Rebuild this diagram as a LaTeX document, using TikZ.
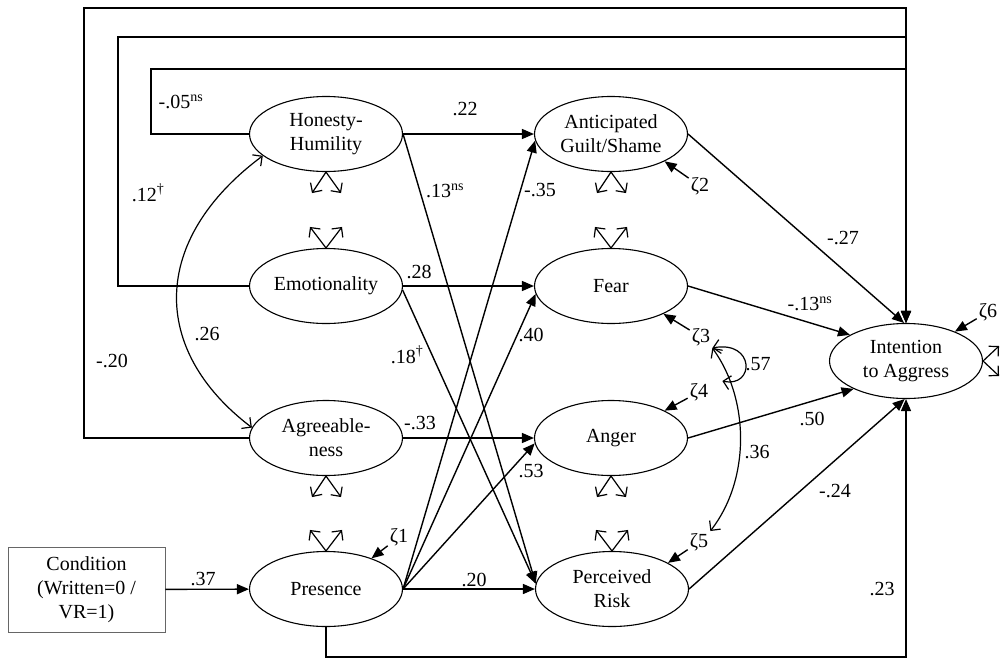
\documentclass[tikz,border=0pt]{standalone}
\usepackage{fontspec}
\setmainfont{Liberation Serif}
\usetikzlibrary{shapes.geometric,arrows.meta,calc}
\begin{document}
\begin{tikzpicture}[x=1pt,y=-1pt,
  font=\fontsize{20}{24}\selectfont,
  lat/.style={draw, ellipse, minimum width=153pt, minimum height=75pt, inner sep=0pt, align=center, line width=1.1pt},
  reg/.style={line width=1.4pt, -{Triangle[length=12pt,width=10pt]}},
  cov/.style={line width=1.2pt, -{Straight Barb[length=7pt,width=14pt]}},
  cor/.style={line width=1.2pt, {Straight Barb[length=7pt,width=14pt]}-{Straight Barb[length=7pt,width=14pt]}},
  lbl/.style={inner sep=1pt},
  zt/.style={inner sep=2pt}]
\useasboundingbox (0,0) rectangle (1001,659);
% latent variables
\node[lat] (hh) at (326,134) {Honesty-\\Humility};
\node[lat] (em) at (326,286) {Emotionality};
\node[lat] (ab) at (326,438) {Agreeable-\\ness};
\node[lat] (pe) at (326,589) {Presence};
\node[lat] (ag) at (611,134) {Anticipated\\Guilt/Shame};
\node[lat] (fe) at (611,286) {Fear};
\node[lat] (an) at (611,438) {Anger};
\node[lat] (pr) at (612,589) {Perceived\\Risk};
\node[lat] (in) at (906,361) {Intention\\to Aggress};
\node[draw=black!60, line width=0.9pt, minimum width=157pt, minimum height=85pt, align=center, inner sep=0pt] (cd) at (86.5,589.5) {Condition\\(Written=0 /\\VR=1)};
% coordinates of outer loops
\coordinate (t1) at (84,8);
\coordinate (t2) at (118,37);
\coordinate (t3) at (151,69);
\coordinate (bt) at (906,657);
% paths
\draw[reg] (cd) -- (pe);
\draw[reg] (hh) -- (ag);
\draw[reg] (em) -- (fe);
\draw[reg] (ab) -- (an);
\draw[reg] (pe) -- (pr);
\draw[reg] (hh.east) -- (pr.176);
\draw[reg] (em.-3) -- (pr.176);
\draw[reg] (pe.east) -- (ag.185);
\draw[reg] (pe.east) -- (fe.186);
\draw[reg] (pe.east) -- (an.184);
\draw[reg] (ag.east) -- (in.93);
\draw[reg] (fe.east) -- (in.155);
\draw[reg] (an.east) -- (in.208);
\draw[reg] (pr.east) -- (in.268);
\draw[reg] (hh.west) -| (t3) -| (in.north);
\draw[reg] (em.west) -| (t2) -| (in.north);
\draw[reg] (ab.west) -| (t1) -| (in.north);
\draw[reg] (pe.south) |- (bt) -- (in.south);
% residuals
\node[zt] (z1) at (399,537) {ζ1};
\node[zt] (z2) at (700,186) {ζ2};
\node[zt] (z3) at (701,337) {ζ3};
\node[zt] (z4) at (699,392) {ζ4};
\node[zt] (z5) at (699,542) {ζ5};
\node[zt] (z6) at (988,312) {ζ6};
\draw[reg] (z1) -- (pe.34);
\draw[reg] (z2) -- (ag.-27);
\draw[reg] (z3) -- (fe.-28);
\draw[reg] (z4) -- (an.27);
\draw[reg] (z5) -- (pr.25);
\draw[reg] (z6) -- (in.31);
% covariance glyphs
\foreach \n in {hh,ab,ag,an}{
  \draw[cov] (\n.south) -- ++(-14,21);
  \draw[cov] (\n.south) -- ++(15,21);
}
\foreach \n in {em,pe,fe,pr}{
  \draw[cov] (\n.north) -- ++(-16,-21);
  \draw[cov] (\n.north) -- ++(16,-21);
}
\draw[cov] (in.east) -- ++(16,-15);
\draw[cov] (in.east) -- ++(16,15);
% correlations
\draw[cor] (hh.199) .. controls (150,240) and (150,350) .. (ab.172);
\draw[cor] (z3.south east) .. controls (755,340) and (755,388) .. ([xshift=12pt]z4.north east);
\draw[cor] (z3.south east) .. controls (750,400) and (750,480) .. (z5.north east);
% labels
\node[lbl] (l1) at (181,102) {-.05\textsuperscript{ns}};
\node[lbl] (l2) at (465,109) {.22};
\node[lbl] (l3) at (148,193) {.12\textsuperscript{†}};
\node[lbl] (l4) at (445,191) {.13\textsuperscript{ns}};
\node[lbl] (l5) at (540,190) {-.35};
\node[lbl] (l6) at (843,238) {-.27};
\node[lbl] (l7) at (419,272) {.28};
\node[lbl] (l8) at (207,334) {.26};
\node[lbl] (l9) at (112,361) {-.20};
\node[lbl] (l10) at (407,355) {.18\textsuperscript{†}};
\node[lbl] (l11) at (420,423) {-.33};
\node[lbl] (l12) at (810,304) {-.13\textsuperscript{ns}};
\node[lbl] (l13) at (531,335) {.40};
\node[lbl] (l14) at (758,364) {.57};
\node[lbl] (l15) at (812,419) {.50};
\node[lbl] (l16) at (757,452) {.36};
\node[lbl] (l17) at (531,471) {.53};
\node[lbl] (l18) at (835,491) {-.24};
\node[lbl] (l19) at (203,579) {.37};
\node[lbl] (l20) at (474,580) {.20};
\node[lbl] (l21) at (882,589) {.23};
\end{tikzpicture}
\end{document}
